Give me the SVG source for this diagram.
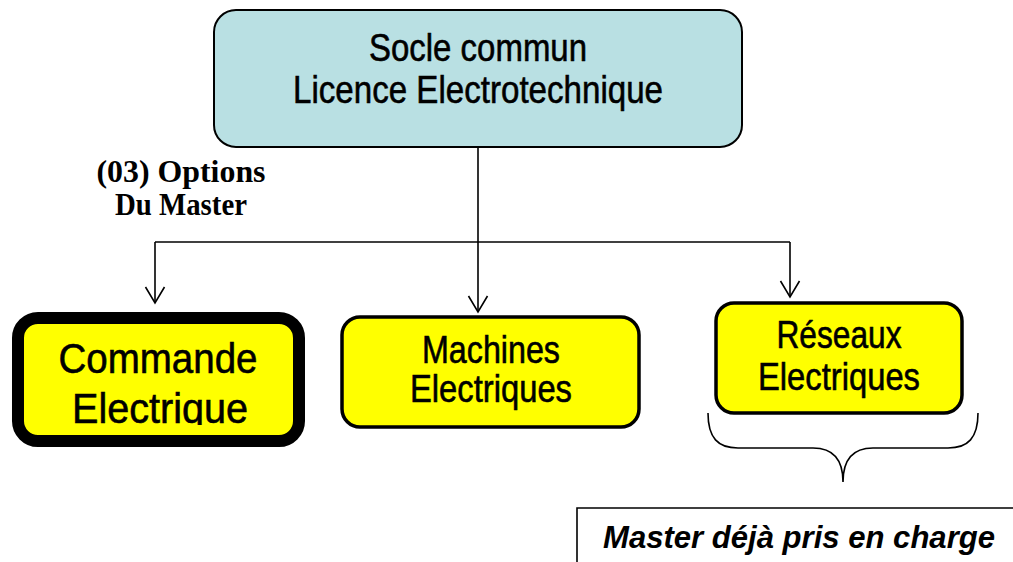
<svg xmlns="http://www.w3.org/2000/svg" width="1013" height="562" viewBox="0 0 1013 562">
<defs>
<style>
.sans{font-family:"Liberation Sans Narrow","Liberation Sans",Arial,sans-serif;fill:#000;stroke:#000;stroke-width:0.6;}
.serif{font-family:"Liberation Serif","Times New Roman",serif;font-weight:bold;fill:#000;}
.conn{fill:none;stroke:#000;stroke-width:1.6;}
.opt{fill:#ffff00;stroke:#000;}
</style>
<marker id="arr" viewBox="-17 -11 19 22" markerWidth="19" markerHeight="22" refX="0" refY="0" orient="auto" markerUnits="userSpaceOnUse">
<path d="M-16,-9.5 L0,0 L-16,9.5" fill="none" stroke="#000" stroke-width="1.6"/>
</marker>
<clipPath id="clipCmd"><rect x="20" y="320" width="277" height="105"/></clipPath>
</defs>
<rect width="1013" height="562" fill="#fff"/>

<g id="connectors">
<path class="conn" d="M478,147 V312" marker-end="url(#arr)"/>
<path class="conn" d="M155,242 H790"/>
<path class="conn" d="M155,242 V303" marker-end="url(#arr)"/>
<path class="conn" d="M790,242 V297" marker-end="url(#arr)"/>
</g>

<g id="socle">
<rect x="214" y="10" width="528" height="137" rx="22" fill="#b9e0e3" stroke="#000" stroke-width="2"/>
<text class="sans" x="478" y="61" font-size="39" text-anchor="middle" textLength="218" lengthAdjust="spacingAndGlyphs">Socle commun</text>
<text class="sans" x="478" y="103" font-size="39" text-anchor="middle" textLength="370" lengthAdjust="spacingAndGlyphs">Licence Electrotechnique</text>
</g>

<g id="options-label">
<text class="serif" x="181" y="182" font-size="32" text-anchor="middle" textLength="169" lengthAdjust="spacingAndGlyphs">(03) Options</text>
<text class="serif" x="181" y="215" font-size="32" text-anchor="middle" textLength="132" lengthAdjust="spacingAndGlyphs">Du Master</text>
</g>

<g id="commande">
<rect x="18" y="318" width="281" height="123" rx="20" class="opt" stroke-width="12"/>
<g clip-path="url(#clipCmd)">
<text class="sans" x="158" y="373" font-size="43" text-anchor="middle" textLength="199" lengthAdjust="spacingAndGlyphs">Commande</text>
<text class="sans" x="160" y="423" font-size="43" text-anchor="middle" textLength="176" lengthAdjust="spacingAndGlyphs">Electrique</text>
</g>
</g>

<g id="machines">
<rect x="342" y="317" width="297" height="110" rx="18" class="opt" stroke-width="3.5"/>
<text class="sans" x="491" y="363" font-size="38" text-anchor="middle" textLength="138" lengthAdjust="spacingAndGlyphs">Machines</text>
<text class="sans" x="491" y="402" font-size="38" text-anchor="middle" textLength="162" lengthAdjust="spacingAndGlyphs">Electriques</text>
</g>

<g id="reseaux">
<rect x="716" y="303" width="246" height="110" rx="18" class="opt" stroke-width="3.5"/>
<text class="sans" x="839" y="348" font-size="38" text-anchor="middle" textLength="125" lengthAdjust="spacingAndGlyphs">Réseaux</text>
<text class="sans" x="839" y="390" font-size="38" text-anchor="middle" textLength="162" lengthAdjust="spacingAndGlyphs">Electriques</text>
</g>

<g id="brace">
<path class="conn" d="M708,413 C708,438 718,448 738,448 L813,448 C833,448 843,460 843,482 C843,460 853,448 873,448 L948,448 C968,448 978,438 978,413"/>
</g>

<g id="master-note">
<path d="M1013,508 H577 V562" fill="none" stroke="#000" stroke-width="1.6"/>
<text x="603" y="548" font-family="'Liberation Sans',Arial,sans-serif" font-weight="bold" font-style="italic" font-size="32" textLength="392" lengthAdjust="spacingAndGlyphs">Master déjà pris en charge</text>
</g>
</svg>
